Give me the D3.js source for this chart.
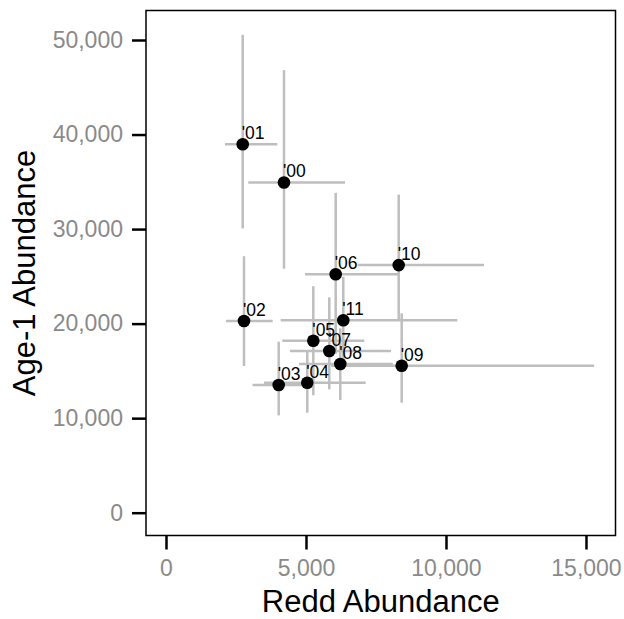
<!DOCTYPE html>
<html>
<head>
<meta charset="utf-8">
<script src="https://cdn.jsdelivr.net/npm/d3@7"></script>
<style>
  body { margin: 0; background: #fff; }
  text { font-family: "Liberation Sans", Arial, sans-serif; }
</style>
</head>
<body>
<div id="chart"></div>
<script>
// jaren (labels bij de punten)
var years = ["'00", "'01", "'02", "'03", "'04", "'05", "'06", "'07", "'08", "'09", "'10", "'11"];

// redd abundance met onder- en bovengrens
var redd   = [4214, 2740, 2786, 4025, 5046, 5261, 6061, 5832, 6225, 8418, 8311, 6332];
var reddLo = [2940, 2107, 2143, 3090, 3500, 4155, 4964, 4429, 4750, 5900, 6850, 4096];
var reddHi = [6393, 3975, 3810, 5000, 7130, 7083, 8296, 8036, 8100, 15290, 11357, 10404];

// age-1 abundance met onder- en bovengrens
var age1   = [34930, 38970, 20280, 13510, 13750, 18190, 25220, 17100, 15730, 15550, 26190, 20350];
var age1Lo = [25810, 30070, 15520, 10290, 10580, 12420, 16800, 13050, 11920, 11640, 20370, 15800];
var age1Hi = [46810, 50550, 27130, 18090, 17000, 23960, 33830, 22780, 19500, 21090, 33640, 24950];

// tick waarden van de assen
var xTicks = [0, 5000, 10000, 15000];
var yTicks = [0, 10000, 20000, 30000, 40000, 50000];

// grenzen van het panel (inclusief uitbreiding)
var xLimits = [-714, 16054];
var yLimits = [-2412, 53120];

const width = 624, height = 619;
const margin = {top: 10.5, right: 8.5, bottom: 83.5, left: 146};
const innerW = width - margin.left - margin.right;
const innerH = height - margin.top - margin.bottom;

var data = years.map(function(y, i) {
  return {year: y, x: redd[i], xlo: reddLo[i], xhi: reddHi[i],
          y: age1[i], ylo: age1Lo[i], yhi: age1Hi[i]};
});

var x = d3.scaleLinear().domain(xLimits).range([0, innerW]);
var y = d3.scaleLinear().domain(yLimits).range([innerH, 0]);

var svg = d3.select("#chart")
    .append("svg")
    .attr("width", width)
    .attr("height", height)
  .append("g")
    .attr("transform", "translate(" + margin.left + "," + margin.top + ")");

// panel rand
svg.append("rect")
    .attr("width", innerW)
    .attr("height", innerH)
    .attr("fill", "#fff")
    .attr("stroke", "#000")
    .attr("stroke-width", 1.5);

// assen
var xAxis = svg.append("g")
    .attr("transform", "translate(0," + innerH + ")")
    .call(d3.axisBottom(x).tickValues(xTicks).tickFormat(d3.format(",")).tickSize(14).tickPadding(10).tickSizeOuter(0));
var yAxis = svg.append("g")
    .call(d3.axisLeft(y).tickValues(yTicks).tickFormat(d3.format(",")).tickSize(14).tickPadding(9).tickSizeOuter(0));

[xAxis, yAxis].forEach(function(a) {
  a.select(".domain").remove();
  a.selectAll(".tick line").attr("stroke", "#000").attr("stroke-width", 2.5);
  a.selectAll(".tick text")
      .attr("fill", "#8a8a8a")
      .style("font-size", "23px")
      .style("font-family", "'Liberation Sans', Arial, sans-serif");
});

// error bars
var bars = svg.append("g").attr("class", "errorbars");
bars.selectAll(".hbar")
    .data(data)
    .enter()
    .append("line")
    .attr("class", "hbar")
    .attr("x1", function(d) { return x(d.xlo); })
    .attr("x2", function(d) { return x(d.xhi); })
    .attr("y1", function(d) { return y(d.y); })
    .attr("y2", function(d) { return y(d.y); })
    .attr("stroke", "#bebebe")
    .attr("stroke-width", 2.5);
bars.selectAll(".vbar")
    .data(data)
    .enter()
    .append("line")
    .attr("class", "vbar")
    .attr("x1", function(d) { return x(d.x); })
    .attr("x2", function(d) { return x(d.x); })
    .attr("y1", function(d) { return y(d.ylo); })
    .attr("y2", function(d) { return y(d.yhi); })
    .attr("stroke", "#bebebe")
    .attr("stroke-width", 2.5);

// punten
svg.selectAll(".dot")
    .data(data)
    .enter()
    .append("circle")
    .attr("class", "dot")
    .attr("cx", function(d) { return x(d.x); })
    .attr("cy", function(d) { return y(d.y); })
    .attr("r", 6.3)
    .attr("fill", "#000");

// jaartal labels
svg.selectAll(".lbl")
    .data(data)
    .enter()
    .append("text")
    .attr("class", "lbl")
    .attr("x", function(d) { return x(d.x) - 1; })
    .attr("y", function(d) { return y(d.y) - 5; })
    .attr("fill", "#000")
    .style("font-size", "17.5px")
    .text(function(d) { return d.year; });

// as titels
svg.append("text")
    .attr("x", innerW / 2)
    .attr("y", height - margin.top - 7.5)
    .attr("text-anchor", "middle")
    .style("font-size", "31px")
    .text("Redd Abundance");

svg.append("text")
    .attr("transform", "translate(" + (35 - margin.left) + "," + (innerH / 2) + ") rotate(-90)")
    .attr("text-anchor", "middle")
    .style("font-size", "31px")
    .text("Age-1 Abundance");
</script>
</body>
</html>
